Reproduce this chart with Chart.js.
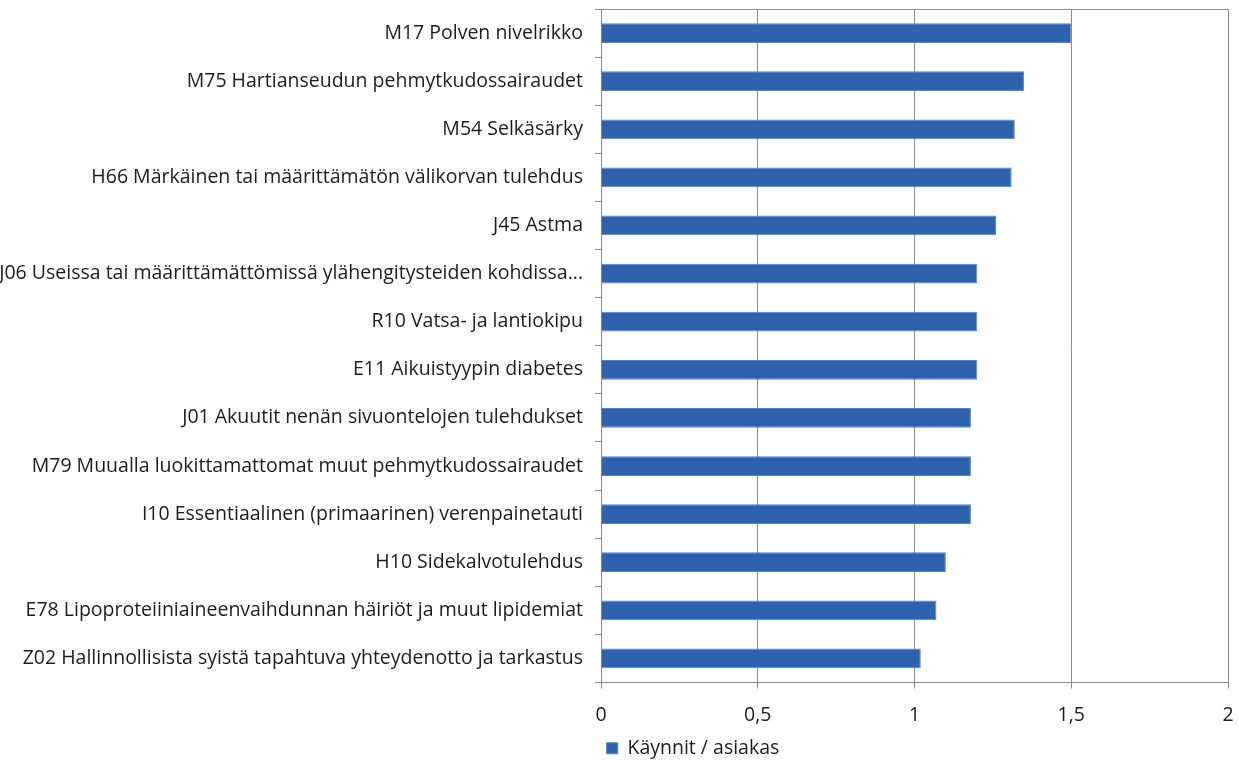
<!DOCTYPE html>
<html>
<head>
<meta charset="utf-8">
<script src="https://cdn.jsdelivr.net/npm/chart.js@4/dist/chart.umd.min.js"></script>
<style>
  html, body { margin: 0; padding: 0; background: #ffffff; }
  #wrap { width: 1239px; height: 760px; }
</style>
</head>
<body>
<div id="wrap"><canvas id="c" width="1239" height="760"></canvas></div>
<script>
const categories = [
  "M17 Polven nivelrikko",
  "M75 Hartianseudun pehmytkudossairaudet",
  "M54 Selkäsärky",
  "H66 Märkäinen tai määrittämätön välikorvan tulehdus",
  "J45 Astma",
  "J06 Useissa tai määrittämättömissä ylähengitysteiden kohdissa...",
  "R10 Vatsa- ja lantiokipu",
  "E11 Aikuistyypin diabetes",
  "J01 Akuutit nenän sivuontelojen tulehdukset",
  "M79 Muualla luokittamattomat muut pehmytkudossairaudet",
  "I10 Essentiaalinen (primaarinen) verenpainetauti",
  "H10 Sidekalvotulehdus",
  "E78 Lipoproteiiniaineenvaihdunnan häiriöt ja muut lipidemiat",
  "Z02 Hallinnollisista syistä tapahtuva yhteydenotto ja tarkastus"
];
const visitsPerClient = [1.50, 1.35, 1.32, 1.31, 1.26, 1.20, 1.20, 1.20, 1.18, 1.18, 1.18, 1.10, 1.07, 1.02];
const seriesName = "Käynnit / asiakas";
const xTicks = [0, 0.5, 1, 1.5, 2];

const FONT = "'Open Sans', Lato, sans-serif";
const FONT_SIZE = 19.5;
const TEXT = "#1c1c1c";
const GRID = "#8c8c8c";

// Thin frame along the top edge of the plotting area
const topFrame = {
  id: "topFrame",
  afterDraw(chart) {
    const a = chart.chartArea, ctx = chart.ctx;
    ctx.save();
    ctx.strokeStyle = GRID;
    ctx.lineWidth = 1;
    ctx.beginPath();
    ctx.moveTo(a.left, Math.round(a.top) + 0.5);
    ctx.lineTo(a.right, Math.round(a.top) + 0.5);
    ctx.stroke();
    ctx.restore();
  }
};

// Legend sits a little lower and is centred under the right-hand part of the chart
const legendPlacement = {
  id: "legendPlacement",
  afterLayout(chart) {
    const lg = chart.legend;
    if (!lg) return;
    lg.left = 158;
    lg.top += 8;
  }
};

new Chart(document.getElementById("c"), {
  type: "bar",
  data: {
    labels: categories,
    datasets: [{
      label: seriesName,
      data: visitsPerClient,
      backgroundColor: "#2e62ad",
      borderColor: "#5b80c2",
      borderWidth: 1,
      categoryPercentage: 1.0,
      barPercentage: 0.41
    }]
  },
  options: {
    indexAxis: "y",
    responsive: false,
    animation: false,
    layout: { padding: { top: 9, right: 11, left: 0, bottom: 0 } },
    plugins: {
      legend: {
        position: "bottom",
        labels: {
          color: TEXT,
          font: { family: FONT, size: FONT_SIZE },
          boxWidth: 11,
          boxHeight: 11,
          padding: 6
        }
      },
      tooltip: { enabled: false }
    },
    scales: {
      x: {
        min: 0,
        max: 2,
        afterBuildTicks(scale) { scale.ticks = xTicks.map(v => ({ value: v })); },
        afterFit(scale) {
          scale.height = 42;
          scale.paddingLeft = 0;
          scale.paddingRight = 0;
        },
        ticks: {
          color: TEXT,
          font: { family: FONT, size: FONT_SIZE },
          padding: 15,
          callback: v => String(v).replace(".", ",")
        },
        grid: { color: GRID, tickColor: GRID, tickLength: 6 },
        border: { color: GRID }
      },
      y: {
        afterFit(scale) {
          scale.width = 601;
          scale.paddingTop = 0;
          scale.paddingBottom = 0;
        },
        ticks: {
          color: TEXT,
          font: { family: FONT, size: FONT_SIZE },
          padding: 12
        },
        grid: {
          drawOnChartArea: false,
          offset: true,
          tickColor: GRID,
          tickLength: 6
        },
        border: { color: GRID }
      }
    }
  },
  plugins: [topFrame, legendPlacement]
});
</script>
</body>
</html>
